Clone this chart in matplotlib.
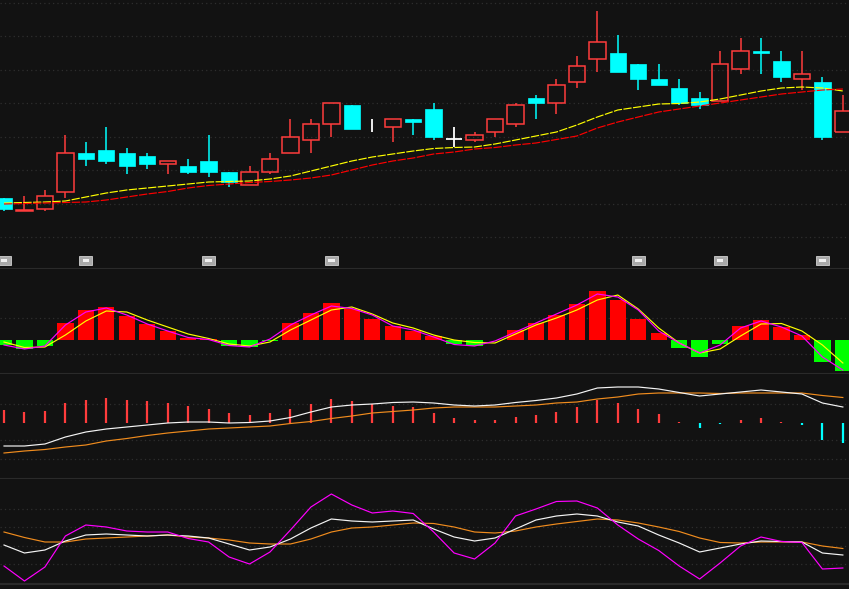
import matplotlib
matplotlib.use("Agg")
import matplotlib.pyplot as plt
from matplotlib.patches import Rectangle
import numpy as np

# ---- candle data (arbitrary price units) ----
open_ = [72, 59.5, 61, 78, 117, 120, 117, 114, 106, 104, 109, 98, 85, 98, 117, 130,
         146, 165, 151, 143, 151, 161, 131, 130, 138, 146, 172, 167, 188, 211, 217,
         206, 191, 182, 172, 169, 201, 219, 209, 191, 188, 138]
close = [61, 60.5, 74, 117, 111, 109, 104, 106, 109, 98, 98, 88, 98, 111, 133, 146,
         167, 141, 151, 151, 148, 133, 131, 135, 151, 165, 167, 185, 204, 228, 198,
         191, 185, 167, 165, 206, 219, 217, 193, 196, 133, 159]
high = [72, 74, 80, 135, 128, 143, 122, 117, 109, 111, 135, 98, 104, 117, 151, 151,
        167, 165, 151, 151, 151, 167, 143, 138, 151, 167, 175, 191, 214, 259, 235,
        206, 206, 191, 178, 219, 232, 232, 219, 219, 193, 175]
low = [59, 59.5, 59, 72, 104, 106, 96, 101, 96, 96, 93, 83, 85, 96, 117, 117,
       133, 141, 138, 128, 135, 130, 123, 128, 133, 143, 151, 156, 182, 198, 198,
       180, 185, 165, 161, 169, 196, 196, 188, 180, 130, 138]
ma_short = [67, 67.5, 68, 69, 73, 77, 80, 82, 84, 86, 88, 88.5, 89, 91, 94, 99,
            104, 109, 113, 116, 119, 121.5, 122.5, 123, 126, 130, 134, 138, 145, 153,
            160, 163, 166, 166.5, 168, 171, 175, 179, 182, 183, 182, 179]
ma_long = [66, 66.5, 67, 67.5, 68, 70, 73, 76, 78.5, 82, 84.5, 86, 87.5, 88.5, 90, 92,
           95, 100, 105, 109, 112, 116, 118, 121, 122.5, 125, 127, 130.5, 134, 142,
           148, 153, 158, 161, 164, 167, 170, 173, 176, 178, 180, 181]
marker_idx = [0, 4, 10, 16, 31, 35, 40]

# ---- MACD-like panel ----
macd_hist = [-0.05, -0.09, -0.06, 0.17, 0.30, 0.33, 0.24, 0.16, 0.09, 0.02, 0.01,
             -0.06, -0.07, -0.005, 0.17, 0.27, 0.37, 0.31, 0.21, 0.14, 0.09, 0.04,
             -0.04, -0.06, 0.0, 0.10, 0.17, 0.25, 0.36, 0.49, 0.40, 0.21, 0.07,
             -0.08, -0.17, -0.04, 0.14, 0.20, 0.13, 0.05, -0.22, -0.31]
dif = [-0.05, -0.09, -0.06, 0.15, 0.28, 0.32, 0.25, 0.16, 0.09, 0.025, 0.005, -0.055,
       -0.07, 0.01, 0.15, 0.25, 0.34, 0.315, 0.25, 0.14, 0.10, 0.03, -0.045, -0.06,
       -0.01, 0.08, 0.17, 0.26, 0.35, 0.46, 0.43, 0.30, 0.09, -0.03, -0.13, -0.05,
       0.12, 0.19, 0.13, 0.04, -0.17, -0.30]
dea = [-0.02, -0.075, -0.07, 0.05, 0.19, 0.29, 0.28, 0.20, 0.13, 0.06, 0.015, -0.04,
       -0.06, -0.02, 0.10, 0.20, 0.30, 0.33, 0.26, 0.17, 0.12, 0.05, 0.0, -0.025,
       -0.03, 0.06, 0.15, 0.22, 0.30, 0.40, 0.45, 0.31, 0.12, -0.03, -0.13, -0.09,
       0.04, 0.16, 0.165, 0.09, -0.05, -0.23]

# ---- volume-like panel ----
vol_bar = [13, 11, 12, 20, 23, 25, 23, 22, 20, 17, 14, 10, 8, 10, 14, 19, 24, 22,
           19, 17, 16, 10, 5, 3, 3, 6, 8, 11, 16, 23, 20, 14, 9, 1, -5, -1, 3, 5,
           1, -2, -17, -20]
vol_fast = [-23, -23, -21, -14, -9, -6, -4, -2, 0, 1, 1, 0, 0.5, 2, 5.5, 11, 16, 18,
            19, 20.5, 21, 20, 18, 17, 18, 20.5, 22.5, 25, 29, 35, 36, 36, 34, 30.5,
            27, 29, 31, 33, 31, 29, 20, 16]
vol_slow = [-30, -28, -26.5, -24, -22, -18, -15.5, -12.5, -10, -8, -6, -5, -4, -3,
            -0.5, 1.5, 4.5, 7, 10, 11.5, 13, 15, 16, 16, 16, 17, 18, 20, 21, 24, 26,
            29, 30, 30, 30, 29.5, 30, 30, 30, 30, 27.5, 25.5]

# ---- KDJ panel ----
kdj_k = [39, 31, 34, 43, 49, 50, 49, 48, 49, 48, 46, 40, 34, 37, 45, 56, 65, 63, 62,
         63, 64, 55, 47, 43, 46, 55, 64, 68, 70, 68, 62, 58, 49, 41, 32, 36, 40, 43,
         42.5, 42, 31, 29]
kdj_d = [52, 46.5, 42, 42, 45, 46, 47, 48, 49, 47, 46, 44, 41, 40, 40, 45, 52, 56, 57,
         59, 61, 60.5, 57, 52, 51, 53, 57, 60, 62.5, 65, 64, 61, 57, 52.5, 46, 41.5,
         41, 42, 42, 42, 38, 35.5]
kdj_j = [18, 3, 17, 48, 59, 57, 53, 52, 52, 45.5, 42, 27, 20, 32, 54, 77, 90, 79, 71,
         73, 70.5, 52, 31, 25, 41, 68, 75, 82.5, 83, 76, 59, 45, 33.5, 18, 5, 21, 38,
         47, 42.5, 41.5, 15, 16]

BG = "#121212"
GRID = "#2e2e2e"
SEP = "#2a2a2a"
UP = "#ff3c3c"
DOWN = "#00ffff"
LW = 0.85

x = np.arange(len(close))
W, H = 849, 589
fig = plt.figure(figsize=(W / 100, H / 100), dpi=100, facecolor=BG)


def panel(top, bottom):
    ax = fig.add_axes([0, 1 - bottom / H, 1, (bottom - top) / H])
    ax.set_facecolor(BG)
    ax.set_xlim(-0.196, 41.3)
    ax.set_xticks([])
    ax.set_yticks([])
    for s in ["top", "left", "right"]:
        ax.spines[s].set_visible(False)
    ax.spines["bottom"].set_color(SEP)
    ax.spines["bottom"].set_linewidth(1.5)
    return ax


def grid(ax, levels):
    for v in levels:
        ax.axhline(v, color=GRID, lw=0.9, ls=(0, (1, 2.5)), zorder=0)


# main candle panel
ax = panel(0, 269)
ax.set_ylim(1, 270)
grid(ax, [267.3, 234, 200.5, 167, 133.5, 100, 66.5, 33])
for i in x:
    o, c, h, l = open_[i], close[i], high[i], low[i]
    if c > o:
        ax.vlines(i, c, h, color=UP, lw=1.1, zorder=3)
        ax.vlines(i, l, o, color=UP, lw=1.1, zorder=3)
        ax.add_patch(Rectangle((i - 0.4, o), 0.8, c - o, fill=False,
                               edgecolor=UP, lw=1.1, zorder=3))
    elif c < o:
        ax.vlines(i, l, h, color=DOWN, lw=1.1, zorder=3)
        ax.add_patch(Rectangle((i - 0.4, c), 0.8, o - c, facecolor=DOWN,
                               edgecolor=DOWN, lw=0.5, zorder=3))
    else:
        # doji: white; the cross bar is hidden when it sits at the high
        ax.vlines(i, l, h, color="white", lw=1.3, zorder=3)
        if h > o:
            ax.hlines(o, i - 0.4, i + 0.4, color="white", lw=1.3, zorder=3)
ax.plot(x, ma_short, color="#ffff00", lw=LW, ls=(0, (7, 1.2)), zorder=4)
ax.plot(x, ma_long, color="#ff0000", lw=LW, ls=(0, (7, 1.2)), zorder=4)
for m in marker_idx:
    ax.add_patch(Rectangle((m - 0.32, 5.5), 0.64, 8.5, facecolor="#a9a9a9",
                           edgecolor="#d0d0d0", lw=0.6, zorder=5))
    ax.add_patch(Rectangle((m - 0.16, 8), 0.32, 3.5, facecolor="#f0f0f0",
                           edgecolor="none", zorder=6))

# MACD panel
ax2 = panel(269, 374)
ax2.set_ylim(-0.34, 0.71)
grid(ax2, [0.22, -0.14])
hist = np.array(macd_hist)
ax2.bar(x, hist, width=0.8, color=np.where(hist >= 0, "#ff0000", "#00ff00"), zorder=2)
ax2.plot(x, dea, color="#ffff00", lw=LW, zorder=3)
ax2.plot(x, dif, color="#ff00ff", lw=LW, zorder=4)

# volume-like panel
ax3 = panel(374, 479)
ax3.set_ylim(-56, 49)
grid(ax3, [19, -17, -36])
vb = np.array(vol_bar)
ax3.vlines(x, 0, vb, colors=np.where(vb >= 0, UP, DOWN), lw=1.6, zorder=2)
ax3.plot(x, vol_slow, color="#f08c1e", lw=LW, zorder=3)
ax3.plot(x, vol_fast, color="#f4f4f4", lw=LW, zorder=4)

# KDJ panel
ax4 = panel(479, 584)
ax4.set_ylim(0, 105)
grid(ax4, [75, 57, 38, 20])
ax4.plot(x, kdj_d, color="#f08c1e", lw=LW, zorder=3)
ax4.plot(x, kdj_k, color="#f4f4f4", lw=LW, zorder=4)
ax4.plot(x, kdj_j, color="#ff00ff", lw=LW, zorder=5)

fig.savefig("out.png", dpi=100, facecolor=BG)
